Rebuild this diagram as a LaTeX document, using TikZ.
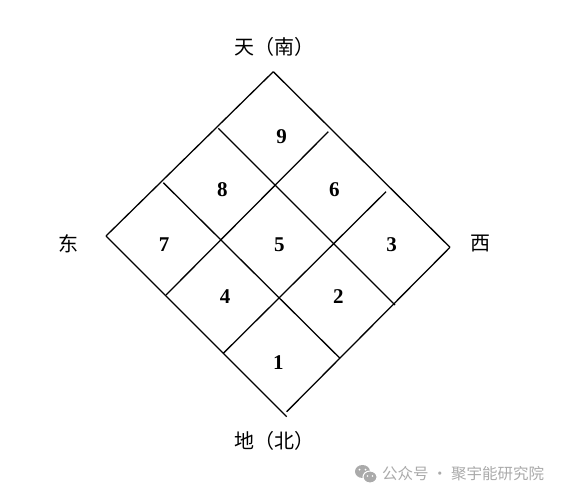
\documentclass[tikz,border=0pt]{standalone}
\usepackage{fontspec}
\setmainfont{Liberation Serif}
\newfontfamily\cjk{Noto Sans CJK SC}
\definecolor{wmgray}{RGB}{170,170,170}

\begin{document}
\begin{tikzpicture}[x=1pt,y=-1pt,
		gridline/.style={line width=1.3pt},
		num/.style={font=\fontsize{21}{22}\selectfont\bfseries},
		dirlabel/.style={font=\cjk\fontsize{20}{22}\selectfont},
		wmtext/.style={font=\cjk\fontsize{15.5}{17}\selectfont, text=wmgray, inner sep=0pt}]
		\useasboundingbox (0,0) rectangle (567,498);
		% corners of the square
		\coordinate (top) at (273.3,71.7);
		\coordinate (left) at (106,236);
		\coordinate (right) at (450,247.3);
		\coordinate (bottom) at (286.7,416.7);
		% "/" lines
		\draw [gridline] (left) -- (top);
		\draw [gridline] (166,295) -- (328.3,131.7);
		\draw [gridline] (223.3,353.3) -- (386,191.7);
		\draw [gridline] (286.7,411.7) -- (right);
		% "\" lines
		\draw [gridline] (top) -- (right);
		\draw [gridline] (218.3,128.3) -- (395,305);
		\draw [gridline] (163.3,182.7) -- (340,358.3);
		\draw [gridline] (left) -- (bottom);
		% numbers
		\foreach \n/\x/\y in {9/281.7/136.7, 8/222.3/190, 6/334.3/190, 7/164/245, 5/279.3/245,
			3/391.7/245, 4/225/296.7, 2/338.3/296.7, 1/278.3/362.7}{
			\node [num] (n\n) at (\x,\y) {\n};
		}
		% directions
		\node [dirlabel] (south) at (274,47) {天（南）};
		\node [dirlabel] (north) at (274,441) {地（北）};
		\node [dirlabel] (east) at (68,244) {东};
		\node [dirlabel] (west) at (480,244) {西};
		% watermark
		\fill [wmgray] (362.5,471.5) ellipse (7.5 and 6.5);
		\filldraw [wmgray, draw=white, line width=1pt] (370,477) ellipse (7 and 6);
		\fill [white] (359.5,469.5) circle (1) (365.5,469.5) circle (1);
		\fill [white] (367.5,476) circle (0.9) (372.5,476) circle (0.9);
		\node [wmtext, anchor=west] (wm) at (382,474) {公众号 · 聚宇能研究院};
\end{tikzpicture}
\end{document}
